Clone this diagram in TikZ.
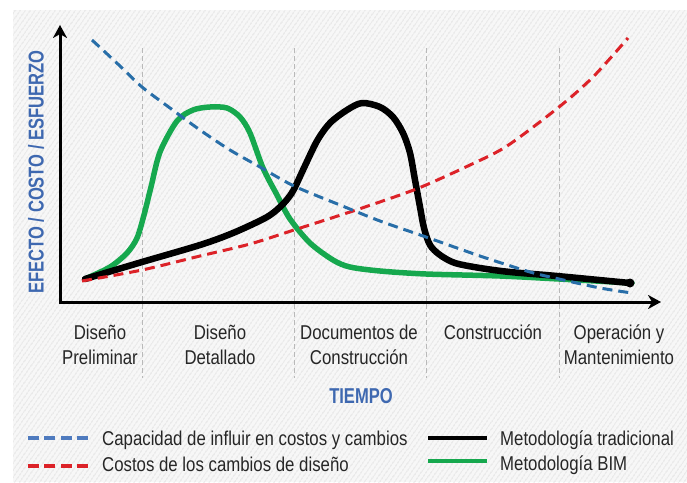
\documentclass[tikz,border=0pt]{standalone}
\usepackage{fontspec}
\setmainfont{Liberation Sans}[FakeStretch=0.84]
\newfontfamily\axisfont{Liberation Sans}[FakeStretch=0.77]
\usetikzlibrary{arrows.meta,patterns.meta}
\definecolor{capblue}{RGB}{40,110,168}
\definecolor{legblue}{RGB}{78,122,190}
\definecolor{costred}{RGB}{220,34,40}
\definecolor{bimgreen}{RGB}{22,168,78}
\definecolor{axisblue}{RGB}{62,104,176}
\definecolor{hatchgray}{RGB}{212,212,212}
\begin{document}
\begin{tikzpicture}[x=1pt,y=-1pt,
    phase/.style={align=center,inner sep=0pt,anchor=north,text=black!85,font=\fontsize{20}{25}\selectfont},
    legtext/.style={anchor=base west,inner sep=0pt,text=black!85,font=\fontsize{20}{24}\selectfont},
    axlabel/.style={inner sep=0pt,text=axisblue,font=\axisfont\bfseries\fontsize{21.5}{24}\selectfont},
    divider/.style={gray!55,line width=1pt,dash pattern=on 5pt off 3pt},
    capcurve/.style={capblue,line width=3pt,dash pattern=on 10pt off 6pt},
    costcurve/.style={costred,line width=3pt,dash pattern=on 10pt off 6pt},
    tradcurve/.style={black,line width=6.5pt,line cap=round,line join=round},
    bimcurve/.style={bimgreen,line width=5.5pt,line cap=round,line join=round}]

  \useasboundingbox (0,0) rectangle (687,482);
  % fondo rayado
  \fill[black!3] (13,10) rectangle (687,482);
  \fill[pattern={Lines[angle=55,distance=4pt,line width=0.7pt]},pattern color=hatchgray] (13,10) rectangle (687,482);

  % fases
  \foreach \x in {142,294,426,559}
    \draw[divider] (\x,48) -- (\x,378);

  % ejes
  \coordinate (origin) at (60,302);
  \coordinate (ytip) at (60,25);
  \coordinate (xtip) at (661,302);
  \draw[line width=3pt,line join=miter,{Stealth[length=13pt,width=14pt,inset=4pt]}-{Stealth[length=13pt,width=14pt,inset=4pt]}] (ytip) -- (origin) -- (xtip);

  % curvas
  \draw[bimcurve] plot[smooth] coordinates {(85,279) (110,267) (127,253) (137,238) (144,215) (151,187) (160,152) (177,121) (193,110) (210,107) (227,108) (240,117) (250,133) (263,168) (277,195) (290,219) (310,243) (333,260) (350,267) (380,271) (426,274) (500,276) (559,279) (632,283)};
  \draw[tradcurve] plot[smooth] coordinates {(85,279) (142,262) (200,245) (233,233) (267,217) (283,204) (293,191) (303,170) (317,141) (330,123) (347,110) (362,103) (380,107) (393,117) (403,133) (410,153) (415,180) (420,207) (424,228) (430,245) (440,255) (455,263) (480,268) (510,272) (557,276) (630,283)};
  \fill (630,283) circle (4.5pt);
  \draw[costcurve] plot[smooth] coordinates {(82,281) (142,270) (200,256) (250,244) (294,230) (350,212) (400,195) (426,185) (470,165) (507,146) (559,107) (593,77) (628,38)};
  \draw[capcurve] plot[smooth] coordinates {(92,40) (120,66) (142,87) (170,108) (200,130) (230,150) (260,167) (294,186) (340,205) (380,221) (426,237) (480,256) (530,272) (559,279) (600,288) (632,293)};

  % textos de los ejes
  \node[axlabel,rotate=90] (efecto) at (36,172) {EFECTO / COSTO / ESFUERZO};
  \node[axlabel] (tiempo) at (361,396) {TIEMPO};

  \node[phase] (prelim) at (100,325) {Diseño\\Preliminar};
  \node[phase] (detalle) at (220,325) {Diseño\\Detallado};
  \node[phase] (docs) at (359,325) {Documentos de\\Construcción};
  \node[phase] (constr) at (493,325) {Construcción};
  \node[phase] (opera) at (619,325) {Operación y\\Mantenimiento};

  % leyenda
  \node[legtext] (capleg) at (102,445) {Capacidad de influir en costos y cambios};
  \node[legtext] (costleg) at (102,471) {Costos de los cambios de diseño};
  \node[legtext] (tradleg) at (500,445) {Metodología tradicional};
  \node[legtext] (bimleg) at (500,470) {Metodología BIM};
  \draw[legblue,line width=4pt,dash pattern=on 11pt off 5.33pt] ([xshift=-14pt,yshift=7pt]capleg.base west) -- ++(-60,0);
  \draw[costred,line width=4pt,dash pattern=on 11pt off 5.33pt] ([xshift=-14pt,yshift=5pt]costleg.base west) -- ++(-60,0);
  \draw[black,line width=4pt] ([xshift=-13pt,yshift=7pt]tradleg.base west) -- ++(-59,0);
  \draw[bimgreen,line width=4pt] ([xshift=-13pt,yshift=9pt]bimleg.base west) -- ++(-59,0);
\end{tikzpicture}
\end{document}
